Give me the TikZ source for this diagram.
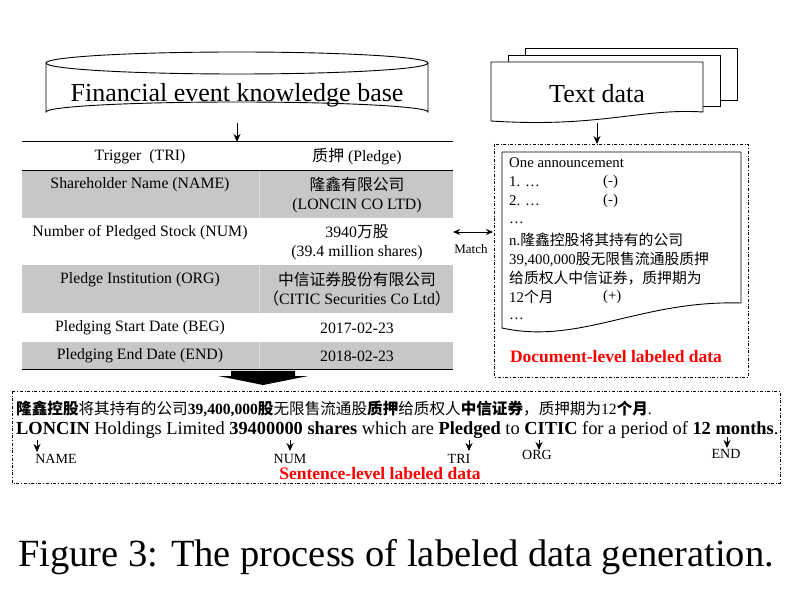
\documentclass[tikz,border=0pt]{standalone}
\usepackage{fontspec}
\setmainfont{Liberation Serif}
\newfontfamily\cjk{Noto Sans CJK SC}
\usetikzlibrary{arrows.meta}
\tikzset{
  cell/.style={font=\fontsize{15.8}{19}\selectfont, inner sep=0pt, align=center},
  doc/.style={draw, fill=white, line width=0.9pt},
  frame/.style={draw, dash dot, line width=0.8pt},
  arr/.style={-{Stealth[length=8pt,width=7pt]}, line width=0.9pt},
  lab/.style={font=\fontsize{14}{16}\selectfont, inner sep=0pt},
  doctext/.style={font=\fontsize{14.8}{16}\selectfont, inner sep=0pt, anchor=west},
  redtext/.style={font=\fontsize{17.5}{19}\selectfont\bfseries, text=red, inner sep=0pt}
}
\begin{document}
\begin{tikzpicture}[x=1pt,y=-1pt]
\useasboundingbox (0,0) rectangle (796,604);
% knowledge base cylinder
\draw[doc] (46,63) -- (46,112) arc (180:360:191 and 10) -- (428,63);
\draw[doc] (237,63) ellipse (191 and 11);
\node[font=\fontsize{26}{28}\selectfont] (kb) at (237,95) {Financial event knowledge base};
% stacked text documents
\draw[doc] (525,48) -- (737,48) -- (737,100) -- (525,100) -- cycle;
\draw[doc] (508,55) -- (720,55) -- (720,106) -- (508,106) -- cycle;
\draw[doc] (491,62) -- (703,62) -- (703,112) .. controls (640,108) and (600,128) .. (491,121) -- cycle;
\node[font=\fontsize{26}{28}\selectfont] (td) at (597,94) {Text data};
% table
\fill[black!22] (22,170) rectangle (453,218);
\fill[black!22] (22,265) rectangle (453,313);
\fill[black!22] (22,342) rectangle (453,370);
\draw[black!12, line width=0.6pt] (259,170) -- (259,218) (259,265) -- (259,313) (259,342) -- (259,370);
\draw[line width=1pt] (22,142) -- (453,142);
\draw[line width=1pt] (22,370) -- (453,370);
\draw[line width=0.6pt] (22,170) -- (453,170);
\coordinate (ktop) at (237,142);
\draw[arr] (237,123) -- (ktop);
\node[cell] (tri) at (140,157) {Trigger\ \ (TRI)};
\node[cell] (triv) at (357,157) {{\cjk 质押} (Pledge)};
\node[cell] (name) at (140,185) {Shareholder Name (NAME)};
\node[cell] (namev) at (357,194.5) {{\cjk 隆鑫有限公司}\\(LONCIN CO LTD)};
\node[cell] (num) at (140,233) {Number of Pledged Stock (NUM)};
\node[cell] (numv) at (357,242.5) {3940{\cjk 万股}\\(39.4 million shares)};
\node[cell] (org) at (140,280) {Pledge Institution (ORG)};
\node[cell] (orgv) at (357,289.5) {{\cjk 中信证券股份有限公司}\\{\cjk （}CITIC Securities Co Ltd{\cjk ）}};
\node[cell] (beg) at (140,328) {Pledging Start Date (BEG)};
\node[cell] (begv) at (357,328) {2017-02-23};
\node[cell] (endr) at (140,356) {Pledging End Date (END)};
\node[cell] (endv) at (357,356) {2018-02-23};
% big arrow down
\fill (231,371) -- (295,371) -- (295,376) -- (308,376) -- (263,385) -- (218,376) -- (231,376) -- cycle;
% document-level frame
\draw[frame] (494,144) rectangle (748,377);
\coordinate (dtop) at (597,144);
\draw[arr] (597,123) -- (dtop);
\coordinate (ml) at (453,232);
\coordinate (mr) at (493,232);
\draw[{Stealth[length=7pt,width=6pt]}-{Stealth[length=7pt,width=6pt]}, line width=0.9pt] (ml) -- (mr);
\node[lab, font=\fontsize{13}{15}\selectfont] (match) at (471,249) {Match};
\draw[doc] (502,152) -- (741,152) -- (741,303) .. controls (640,300) and (580,345) .. (502,328) -- cycle;
\node[doctext] (ann) at (509,163) {One announcement};
\node[doctext] (l1) at (509,182) {1. \dots};
\node[doctext] (p1) at (603,182) {(-)};
\node[doctext] (l2) at (509,201) {2. \dots};
\node[doctext] (p2) at (603,201) {(-)};
\node[doctext] (l3) at (509,223) {\dots};
\node[doctext] (ln) at (509,240) {n.{\cjk 隆鑫控股将其持有的公司}};
\node[doctext] (ln2) at (509,259) {39,400,000{\cjk 股无限售流通股质押}};
\node[doctext] (ln3) at (509,278) {{\cjk 给质权人中信证券，质押期为}};
\node[doctext] (ln4) at (509,297) {12{\cjk 个月}};
\node[doctext] (pn) at (603,297) {(+)};
\node[doctext] (l5) at (509,319) {\dots};
\node[redtext] (dl) at (616,357) {Document-level labeled data};
% sentence-level frame
\draw[frame] (12,391) rectangle (780,483);
\node[inner sep=0pt, anchor=west, font=\fontsize{15.6}{17}\selectfont] (zh) at (16,409)
  {{\cjk\bfseries 隆鑫控股}{\cjk 将其持有的公司}\textbf{39,400,000}{\cjk\bfseries 股}{\cjk 无限售流通股}{\cjk\bfseries 质押}{\cjk 给质权人}{\cjk\bfseries 中信证券}{\cjk ，质押期为}12{\cjk\bfseries 个月}.};
\node[inner sep=0pt, anchor=west, font=\fontsize{18.4}{20}\selectfont] (en) at (16,430)
  {\textbf{LONCIN} Holdings Limited \textbf{39400000 shares} which are \textbf{Pledged} to \textbf{CITIC} for a period of \textbf{12 months}.};
\node[lab] (tname) at (56,459) {NAME};
\node[lab] (tnum) at (290,459) {NUM};
\node[lab] (ttri) at (459,459) {TRI};
\node[lab] (torg) at (537,455) {ORG};
\node[lab] (tend) at (726,454) {END};
\foreach \x/\a/\b in {37/440/452, 290/440/451, 469/440/451, 539/440/450, 727/437/448}
  \draw[arr] (\x,\a) -- (\x,\b);
\node[redtext] (sl) at (380,474) {Sentence-level labeled data};
% caption
\node[font=\fontsize{38.5}{42}\selectfont] (cap) at (396,557) {Figure 3: The process of labeled data generation.};
\end{tikzpicture}
\end{document}
